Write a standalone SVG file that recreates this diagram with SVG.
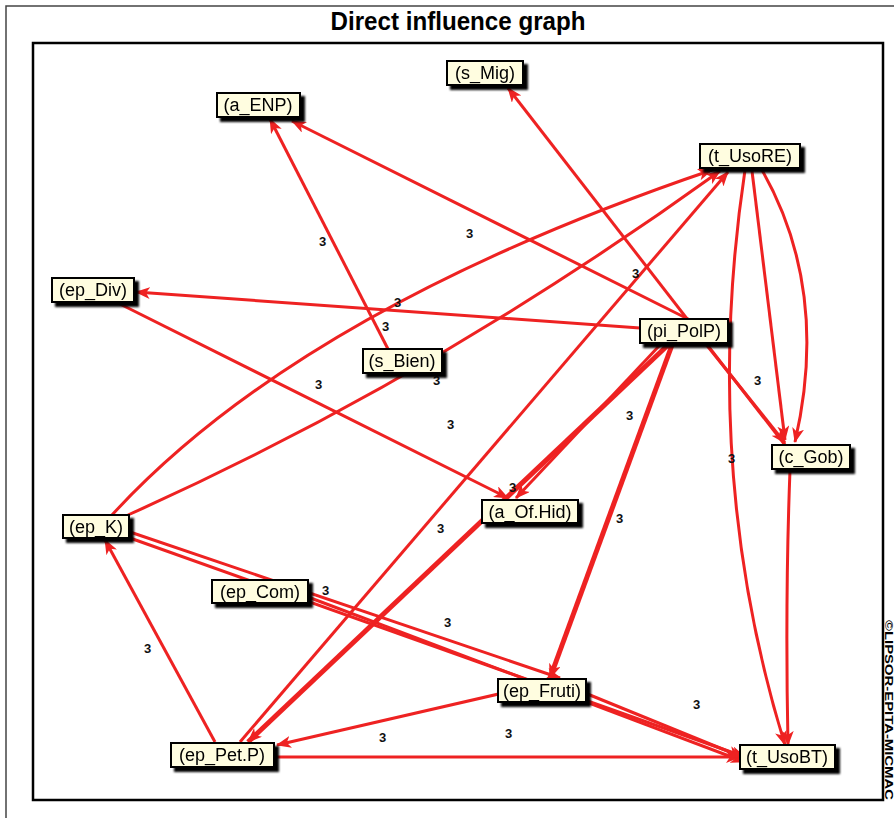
<svg xmlns="http://www.w3.org/2000/svg" width="894" height="818" viewBox="0 0 894 818">
<defs>
<marker id="ah" markerUnits="userSpaceOnUse" markerWidth="16" markerHeight="12" refX="14" refY="6" orient="auto">
<path d="M0,0 L15,6 L0,12 L4,6 Z" fill="#EE2222"/>
</marker>
<filter id="sh" x="-10%" y="-10%" width="130%" height="150%">
<feOffset dx="4" dy="4" in="SourceAlpha" result="o"/>
<feGaussianBlur in="o" stdDeviation="1" result="b"/>
<feMerge><feMergeNode in="b"/><feMergeNode in="SourceGraphic"/></feMerge>
</filter>
</defs>
<style>
.e{fill:none;stroke:#EE2222;stroke-width:3;marker-end:url(#ah)}
.t{stroke-width:5}
.l{font-family:"Liberation Sans",Arial,sans-serif;font-size:13px;font-weight:bold;fill:#111}
.nb{fill:#FFFDE0;stroke:#000;stroke-width:2}
.nt{font-family:"Liberation Sans",Arial,sans-serif;font-size:18px;fill:#000;text-anchor:middle}
</style>
<rect x="0" y="0" width="894" height="818" fill="#fff"/>
<path d="M6,818 L6,6 L894,6" fill="none" stroke="#444" stroke-width="1.5"/>
<text x="458" y="30" font-family="'Liberation Sans',Arial,sans-serif" font-weight="bold" font-size="26" text-anchor="middle" textLength="255" lengthAdjust="spacingAndGlyphs">Direct influence graph</text>
<rect x="33" y="43" width="850" height="757" fill="none" stroke="#000" stroke-width="2.5"/>
<text transform="translate(885,620) rotate(90)" font-family="'Liberation Sans',Arial,sans-serif" font-weight="bold" font-size="10" textLength="180" lengthAdjust="spacingAndGlyphs">©LIPSOR-EPITA-MICMAC</text>
<g id="connectors">
<path class="e" d="M388,349 L270,119"/>
<path class="e" d="M690,320 L292,121"/>
<path class="e" d="M785,445 L508,88"/>
<path class="e" d="M640,328 L136,292"/>
<path class="e" d="M112,515 Q300,310 712,170"/>
<path class="e" d="M128,515 Q430,380 720,171"/>
<path class="e" d="M118,303 L508,498"/>
<path class="e" d="M660,345 L516,498"/>
<path class="e" d="M705,343 L785,443"/>
<path class="e" d="M745,170 Q700,470 785,745"/>
<path class="e" d="M790,470 Q785,600 788,745"/>
<path class="e" d="M762,170 Q830,290 795,442"/>
<path class="e" d="M752,171 L785,440"/>
<path class="e t" d="M668,345 L248,742"/>
<path class="e t" d="M672,345 L550,678"/>
<path class="e" d="M240,742 L728,172"/>
<path class="e" d="M130,538 L745,757"/>
<path class="e" d="M130,532 L560,678"/>
<path class="e" d="M308,597 L745,762"/>
<path class="e" d="M215,742 L105,540"/>
<path class="e" d="M516,690 L277,745"/>
<path class="e" d="M275,757 L740,757"/>
<path class="e" d="M585,693 L742,757"/>
</g>
<g id="labels" class="l">
<text x="319" y="246">3</text>
<text x="466" y="238">3</text>
<text x="632" y="278">3</text>
<text x="394" y="307">3</text>
<text x="382" y="331">3</text>
<text x="433" y="385">3</text>
<text x="315" y="389">3</text>
<text x="447" y="429">3</text>
<text x="626" y="420">3</text>
<text x="754" y="385">3</text>
<text x="728" y="463">3</text>
<text x="509" y="492">3</text>
<text x="437" y="533">3</text>
<text x="616" y="523">3</text>
<text x="322" y="595">3</text>
<text x="444" y="627">3</text>
<text x="144" y="653">3</text>
<text x="693" y="709">3</text>
<text x="505" y="738">3</text>
<text x="379" y="742">3</text>
</g>
<g id="n_s_Mig" filter="url(#sh)"><rect class="nb" x="447" y="61" width="76" height="24"/><text class="nt" x="485" y="79">(s_Mig)</text></g>
<g id="n_a_ENP" filter="url(#sh)"><rect class="nb" x="217" y="93" width="83" height="24"/><text class="nt" x="258" y="111">(a_ENP)</text></g>
<g id="n_t_UsoRE" filter="url(#sh)"><rect class="nb" x="700" y="144" width="100" height="24"/><text class="nt" x="750" y="162">(t_UsoRE)</text></g>
<g id="n_ep_Div" filter="url(#sh)"><rect class="nb" x="52" y="278" width="82" height="24"/><text class="nt" x="93" y="296">(ep_Div)</text></g>
<g id="n_s_Bien" filter="url(#sh)"><rect class="nb" x="363" y="349" width="79" height="24"/><text class="nt" x="402" y="367">(s_Bien)</text></g>
<g id="n_pi_PolP" filter="url(#sh)"><rect class="nb" x="640" y="319" width="88" height="24"/><text class="nt" x="684" y="337">(pi_PolP)</text></g>
<g id="n_c_Gob" filter="url(#sh)"><rect class="nb" x="772" y="445" width="78" height="24"/><text class="nt" x="811" y="463">(c_Gob)</text></g>
<g id="n_ep_K" filter="url(#sh)"><rect class="nb" x="63" y="515" width="66" height="23"/><text class="nt" x="96" y="533">(ep_K)</text></g>
<g id="n_a_Of_Hid" filter="url(#sh)"><rect class="nb" x="482" y="500" width="96" height="23"/><text class="nt" x="530" y="518">(a_Of.Hid)</text></g>
<g id="n_ep_Com" filter="url(#sh)"><rect class="nb" x="212" y="580" width="96" height="23"/><text class="nt" x="260" y="598">(ep_Com)</text></g>
<g id="n_ep_Fruti" filter="url(#sh)"><rect class="nb" x="498" y="679" width="88" height="23"/><text class="nt" x="542" y="697">(ep_Fruti)</text></g>
<g id="n_ep_Pet_P" filter="url(#sh)"><rect class="nb" x="171" y="743" width="103" height="24"/><text class="nt" x="222" y="761">(ep_Pet.P)</text></g>
<g id="n_t_UsoBT" filter="url(#sh)"><rect class="nb" x="740" y="745" width="95" height="24"/><text class="nt" x="787" y="763">(t_UsoBT)</text></g>
</svg>
